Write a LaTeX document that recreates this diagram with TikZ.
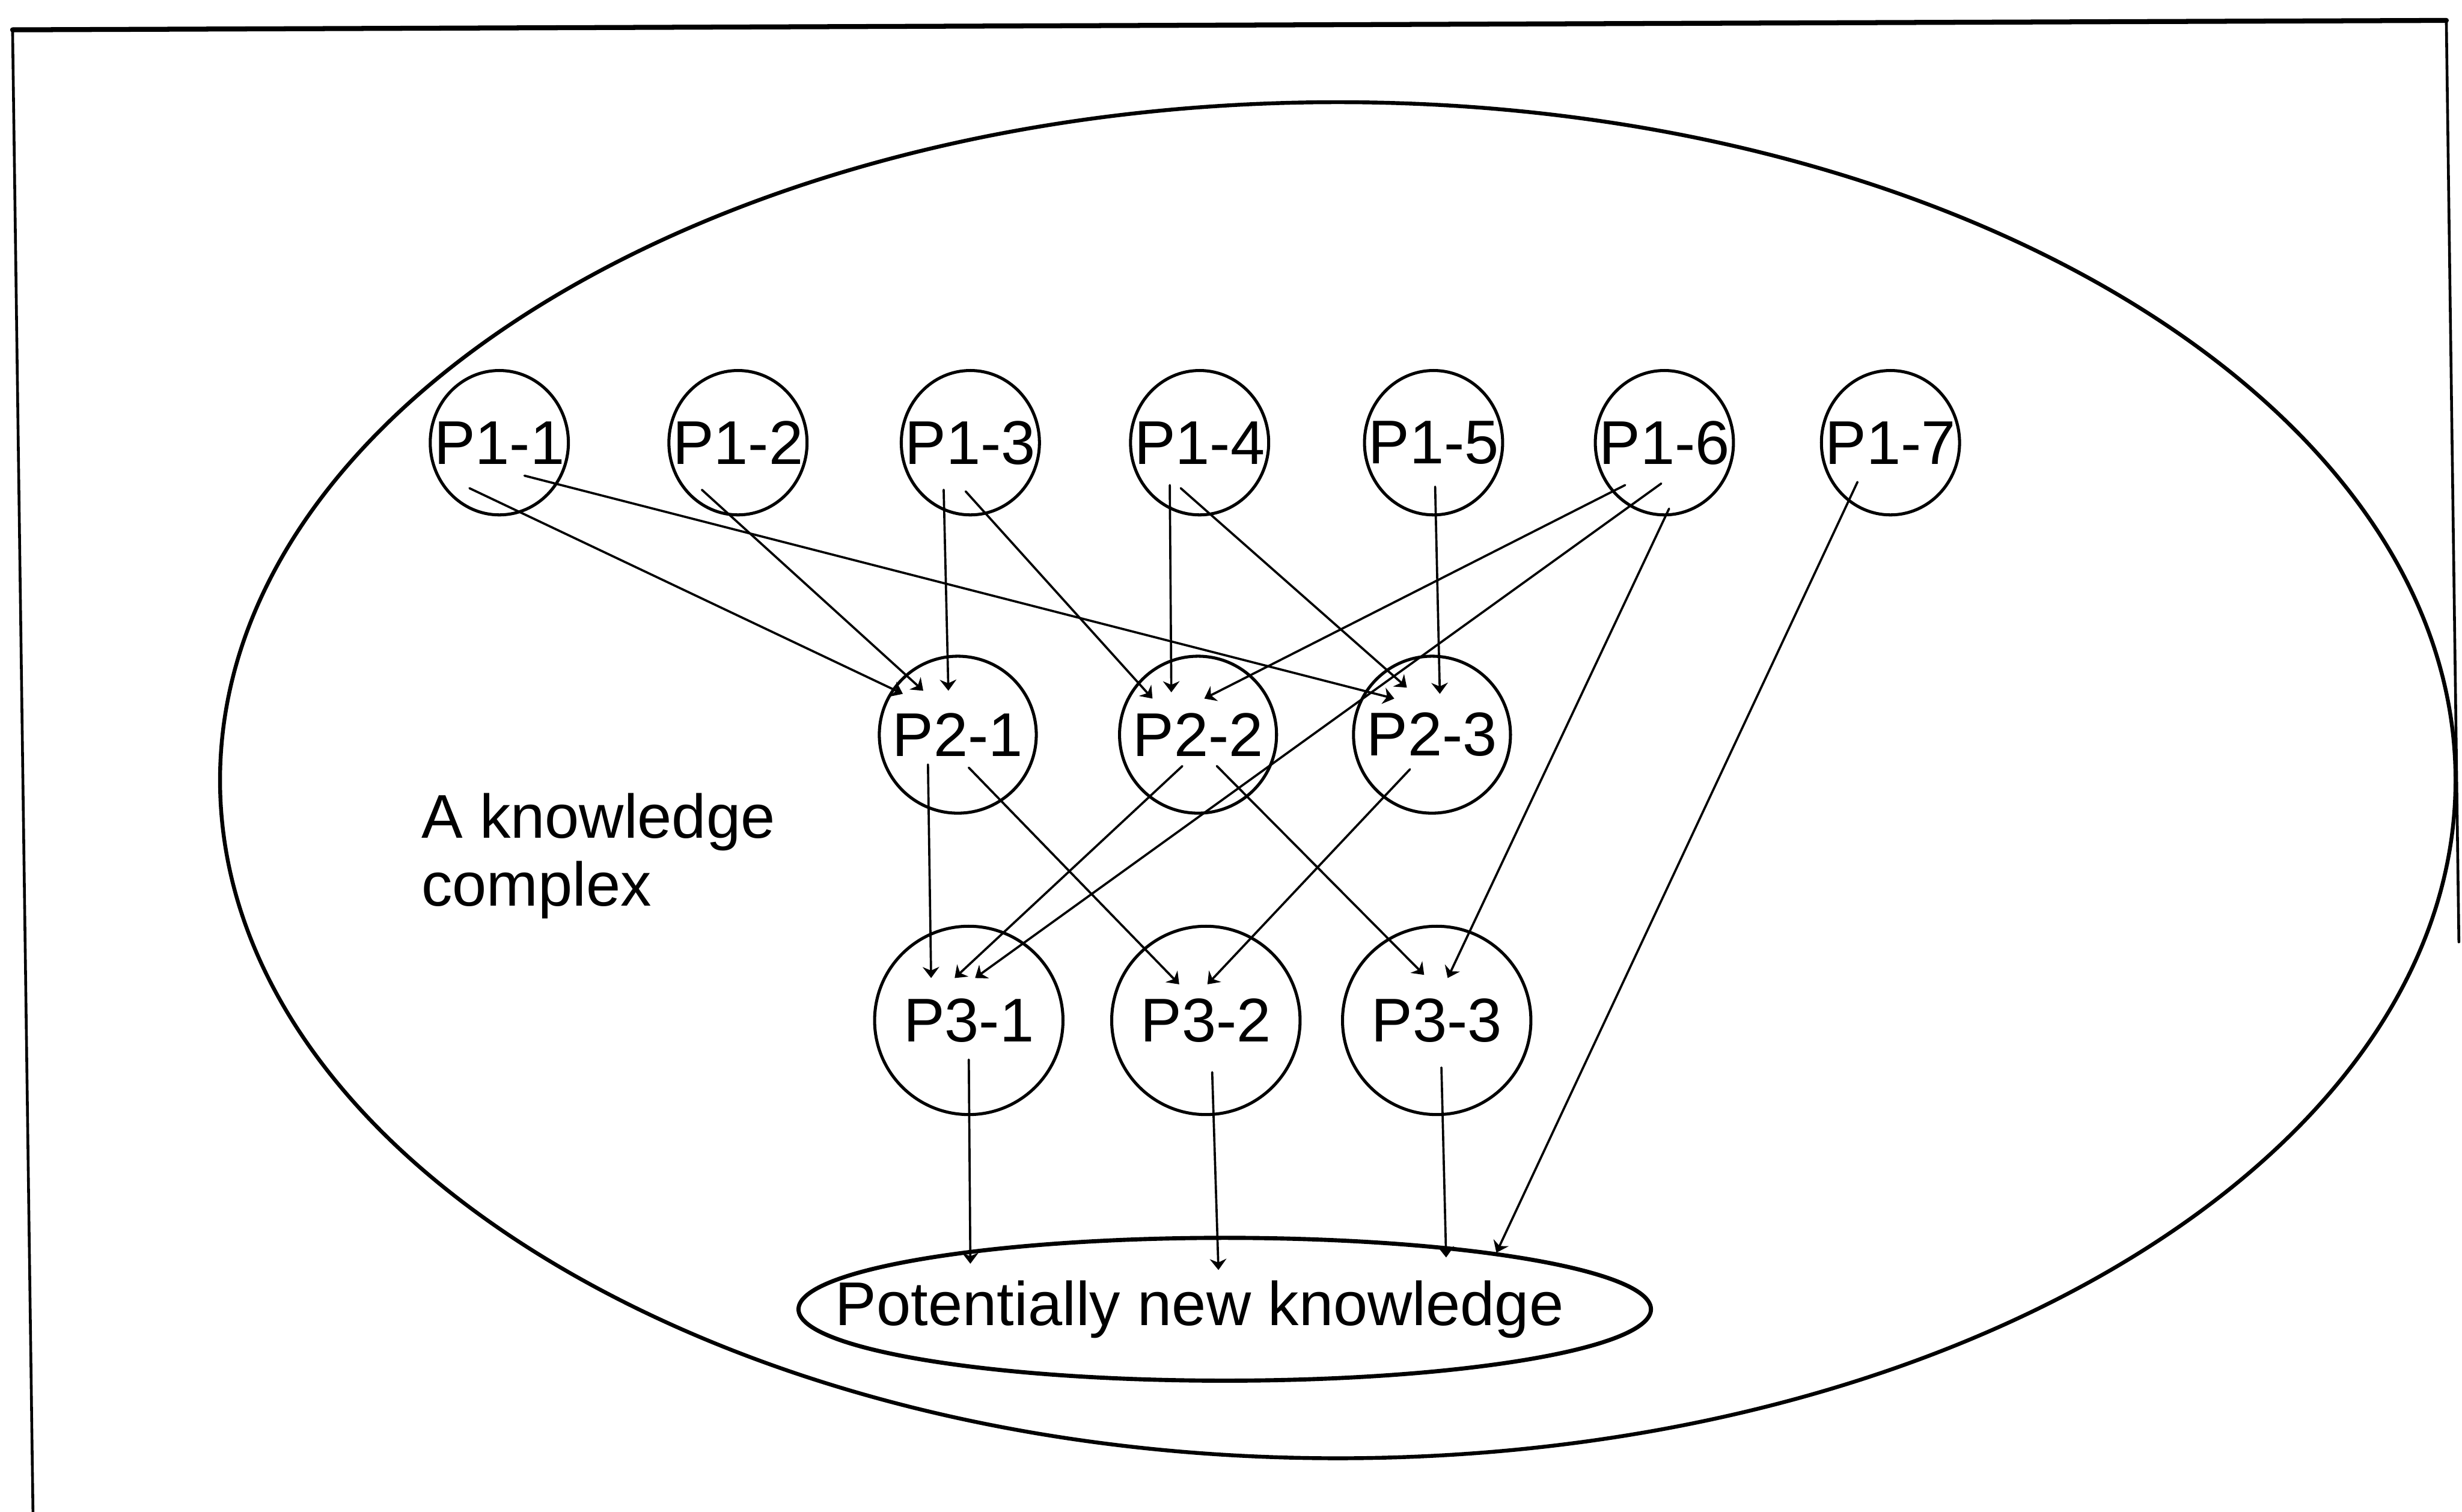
\documentclass[tikz,border=0pt]{standalone}
\usepackage{fontspec}
\setmainfont{Liberation Sans}
\usetikzlibrary{shapes.geometric,arrows.meta}
\begin{document}
\begin{tikzpicture}[x=0.02cm, y=-0.02cm, font=\fontsize{22.4}{24.7}\selectfont, line join=round, line cap=round,
	prop/.style={draw, ellipse, line width=1.1pt, inner sep=0pt},
	arr/.style={-{Stealth[length=4pt,width=6pt]}, line width=0.8pt}]
	\useasboundingbox (0,0) rectangle (1568,963);
	% frame and the knowledge complex
	\draw[line width=1.8pt] (8,19) -- (1558,13);
	\draw[line width=1pt] (21,963) -- (8,19) (1558,13) -- (1566,600);
	\draw[line width=1.4pt] (852,497) ellipse [x radius=14.24cm, y radius=8.64cm];
	\node[align=left, anchor=north west, inner sep=0pt] (kc) at (268,505) {A knowledge\\complex};
	% propositions (labels may run over the rims)
	\foreach \n/\x in {1/318,2/470,3/618,4/764,5/913,6/1060,7/1204}
		\node[prop, minimum width=1.76cm, minimum height=1.84cm] (p1\n) at (\x,282) {\makebox[0pt]{P1-\n}};
	\foreach \n/\x in {1/610,2/763,3/912}
		\node[prop, minimum width=2cm, minimum height=2cm] (p2\n) at (\x,468) {\makebox[0pt]{P2-\n}};
	\foreach \n/\x in {1/617,2/768,3/915}
		\node[prop, minimum width=2.4cm, minimum height=2.4cm] (p3\n) at (\x,650) {\makebox[0pt]{P3-\n}};
	\node[prop, line width=1.5pt, minimum width=10.86cm, minimum height=1.82cm] (pnk) at (780,834)
		{\makebox[0pt]{Potentially new knowledge\hspace{0.64cm}}};
	% links
	\foreach \src/\sx/\sy/\dst/\dx/\dy in {
		p11/-19/29/p21/-35/-26, p11/16/21/p23/-24/-23, p12/-23/30/p21/-22/-28,
		p13/-17/30/p21/-6/-28, p13/-3/31/p22/-29/-23, p14/-19/27/p22/-17/-27,
		p14/-12/29/p23/-16/-30, p15/1/28/p23/5/-26, p16/-25/27/p22/4/-23,
		p16/-2/26/p31/4/-27, p16/3/42/p33/7/-27, p17/-21/25/pnk/173/-36,
		p21/-19/19/p31/-24/-27, p21/7/21/p32/-17/-23, p22/-10/20/p31/-9/-27,
		p22/12/20/p33/-8/-29, p23/-14/22/p32/1/-23,
		p31/0/25/pnk/-162/-29, p32/4/33/pnk/-4/-25, p33/3/30/pnk/141/-33}
		\draw[arr] ([shift={(\sx,\sy)}]\src.center) -- ([shift={(\dx,\dy)}]\dst.center);
\end{tikzpicture}
\end{document}
